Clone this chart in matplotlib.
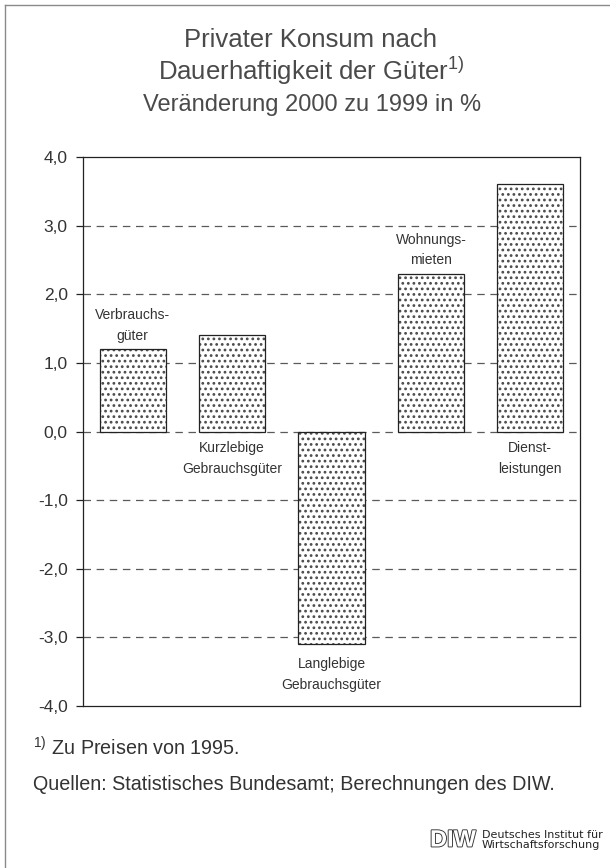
import matplotlib
matplotlib.use("Agg")
import matplotlib.pyplot as plt
import matplotlib.patheffects as pe
from matplotlib.lines import Line2D

W, H = 610, 868

CATEGORIES = [
    "Verbrauchs-\ngüter",
    "Kurzlebige\nGebrauchsgüter",
    "Langlebige\nGebrauchsgüter",
    "Wohnungs-\nmieten",
    "Dienst-\nleistungen",
]
VALUES = [1.2, 1.4, -3.1, 2.3, 3.6]
LABEL_ABOVE = [True, False, False, True, False]
YTICKS = [-4, -3, -2, -1, 0, 1, 2, 3, 4]
YTICK_LABELS = ["-4,0", "-3,0", "-2,0", "-1,0", "0,0", "1,0", "2,0", "3,0", "4,0"]

TEXT = "#333333"
TITLE = "#4a4a4a"
GRID = "#5a5a5a"

plt.rcParams.update({
    "font.family": ["Liberation Sans", "DejaVu Sans"],
    "hatch.linewidth": 1.2,
})


def fx(x):
    return x / W


def fy(y):
    return 1 - y / H


fig = plt.figure(figsize=(W / 100, H / 100), dpi=100)
fig.patch.set_facecolor("white")

# outer frame (left and top edges of the scanned box)
fig.add_artist(Line2D([fx(5), fx(5)], [fy(5), fy(868)], color="#8a8a8a", lw=1.0))
fig.add_artist(Line2D([fx(5), fx(610)], [fy(5), fy(5)], color="#8a8a8a", lw=1.0))

ax = fig.add_axes([fx(83), fy(706), (580 - 83) / W, (706 - 157) / H])
x = list(range(len(VALUES)))

for yv in YTICKS[1:-1]:
    ax.axhline(yv, color=GRID, lw=0.9, ls=(0, (6, 4.5)), zorder=1)

ax.bar(x, VALUES, width=2 / 3, color="white", edgecolor="#4a4a4a",
       hatch="...", linewidth=0, zorder=2)
ax.bar(x, VALUES, width=2 / 3, fill=False, edgecolor="#222222",
       linewidth=0.9, zorder=3)

for i, (lab, v, above) in enumerate(zip(CATEGORIES, VALUES, LABEL_ABOVE)):
    if above:
        ax.annotate(lab, (i, v), xytext=(0, 4.5), textcoords="offset points",
                    ha="center", va="bottom", fontsize=10, color=TEXT,
                    linespacing=1.6)
    else:
        base = min(v, 0)
        off = -7 if base == 0 else -9.5
        ax.annotate(lab, (i, base), xytext=(0, off), textcoords="offset points",
                    ha="center", va="top", fontsize=10, color=TEXT,
                    linespacing=1.6)

ax.set_xlim(-0.5, 4.5)
ax.set_ylim(-4, 4)
ax.set_xticks([])
ax.set_yticks(YTICKS)
ax.set_yticklabels(YTICK_LABELS)
ax.tick_params(axis="y", direction="out", length=5, width=0.9, colors="#222222",
               labelcolor=TEXT, labelsize=12.5, pad=6)
for s in ax.spines.values():
    s.set_color("#222222")
    s.set_linewidth(0.9)

# titles
fig.text(fx(311), fy(40), "Privater Konsum nach", ha="center", va="center",
         fontsize=18.5, color=TITLE)
fig.text(fx(311), fy(71), r"Dauerhaftigkeit der Güter$^{\mathregular{1)}}$",
         ha="center", va="center", fontsize=18.5, color=TITLE)
fig.text(fx(312), fy(105), "Veränderung 2000 zu 1999 in %", ha="center",
         va="center", fontsize=17, color=TITLE)

# footnotes
fig.text(fx(33), fy(748), r"$^{\mathregular{1)}}$ Zu Preisen von 1995.",
         ha="left", va="center", fontsize=14.2, color=TEXT)
fig.text(fx(33), fy(784), "Quellen: Statistisches Bundesamt; Berechnungen des DIW.",
         ha="left", va="center", fontsize=14.2, color=TEXT)

# DIW logo
fig.text(fx(430), fy(840), "DIW", ha="left", va="center", fontsize=17,
         fontweight="bold", color="white",
         path_effects=[pe.Stroke(linewidth=1.3, foreground="#333333"), pe.Normal()])
fig.text(fx(482), fy(840), "Deutsches Institut für\nWirtschaftsforschung",
         ha="left", va="center", fontsize=8, color="#222222", linespacing=0.95,
         family="DejaVu Sans")

fig.savefig("out.png", dpi=100)
